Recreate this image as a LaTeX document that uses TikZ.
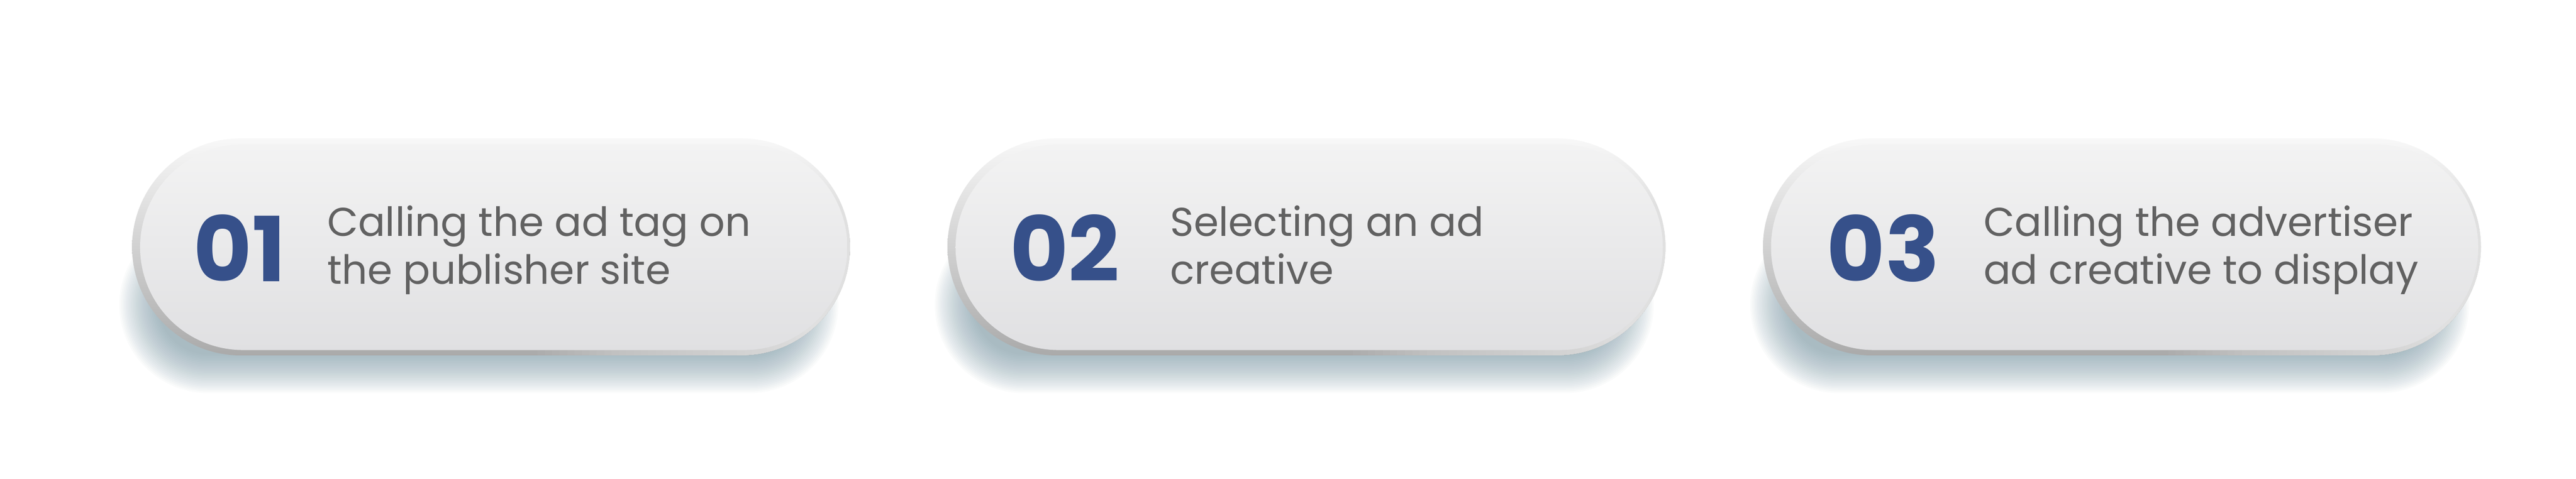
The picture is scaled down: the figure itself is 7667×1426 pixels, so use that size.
\documentclass[tikz,border=0pt]{standalone}
\usepackage{fontspec}
\setmainfont{Poppins}
\definecolor{numblue}{HTML}{36508A}
\definecolor{txtgray}{HTML}{616161}
\definecolor{facetop}{HTML}{F3F3F3}
\definecolor{facebot}{HTML}{E0E0E2}
\definecolor{rimtop}{HTML}{F8F8F8}
\definecolor{rimmid}{HTML}{C6C6C6}
\definecolor{rimbot}{HTML}{AAAAAA}
\definecolor{shadowc}{HTML}{7896A5}
\begin{document}
\begin{tikzpicture}[x=0.01cm,y=-0.01cm,
  numtext/.style={anchor=base west, inner sep=0pt, text=numblue, font=\fontsize{76}{76}\selectfont\bfseries},
  steptext/.style={anchor=base west, inner sep=0pt, text=txtgray, align=left, font=\fontsize{34}{40.4}\selectfont},
  rimshade/.style={top color=rimtop, middle color=rimmid, bottom color=rimbot, rounded corners=3.23cm},
  rimlight/.style={fill=white, fill opacity=0.03},
  faceshade/.style={top color=facetop, bottom color=facebot, rounded corners=3.06cm},
  shadowlayer/.style={fill=shadowc, opacity=0.036}
]
\fill[white] (0,0) rectangle (7667,1426);
\useasboundingbox (0,0) rectangle (7667,1426);
\foreach \i in {0,1,2}{
  \pgfmathsetmacro\ox{2427*\i}
  \foreach \d in {0,5,...,115}{
    \pgfmathsetmacro\rr{(148+\d)*0.01}
    \path[shadowlayer, rounded corners=\rr cm] (\ox+470-\d,760-\d) rectangle (\ox+2380+\d,1055+\d);
  }
  \shade[rimshade] (\ox+393,412) rectangle (\ox+2530,1058);
  \begin{scope}
    \clip[rounded corners=3.23cm] (\ox+393,412) rectangle (\ox+2530,1058);
    \foreach \k in {0,...,40}{
      \path[rimlight] (\ox+1600+22*\k,400) rectangle (\ox+2540,1070);
    }
  \end{scope}
  \shade[faceshade] (\ox+417,430) rectangle (\ox+2522,1042);
}
\node[numtext] (n1) at (575,838) {01};
\node[numtext] (n2) at (3005,838) {02};
\node[numtext] (n3) at (5436,838) {03};
\node[steptext] (t1) at (973,845) {Calling the ad tag on\\the publisher site};
\node[steptext] (t2) at (3482,845) {Selecting an ad\\creative};
\node[steptext] (t3) at (5903,845) {Calling the advertiser\\ad creative to display};
\end{tikzpicture}
\end{document}
